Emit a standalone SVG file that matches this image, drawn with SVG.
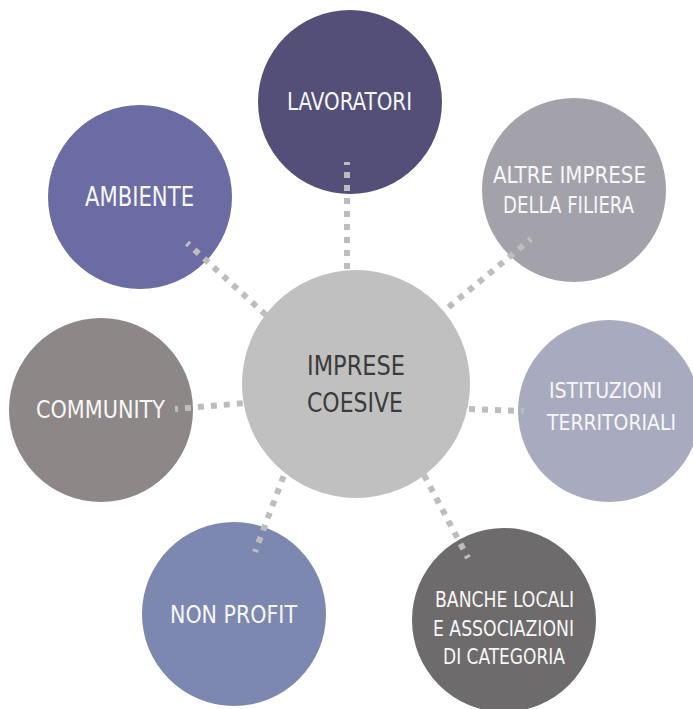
<svg xmlns="http://www.w3.org/2000/svg" width="693" height="709" viewBox="0 0 693 709">
  <style>
    .lbl { font-family: "DejaVu Sans Condensed", "DejaVu Sans", "Liberation Sans", sans-serif; fill: #f7f7f7; }
    .core { font-family: "DejaVu Sans Condensed", "DejaVu Sans", "Liberation Sans", sans-serif; fill: #3b3b3b; }
    .link { stroke: #bdbdbd; stroke-width: 6; stroke-dasharray: 6 7; stroke-dashoffset: 3; fill: none; }
  </style>
  <rect width="693" height="709" fill="#ffffff"/>

  <!-- stakeholder nodes -->
  <g id="lavoratori">
    <circle cx="350" cy="102" r="92" fill="#534f78"/>
    <text class="lbl" x="287" y="110" font-size="25" textLength="125" lengthAdjust="spacingAndGlyphs">LAVORATORI</text>
  </g>
  <g id="altre-imprese">
    <circle cx="574" cy="190" r="92" fill="#a3a2ab"/>
    <text class="lbl" x="493" y="183" font-size="23" textLength="153" lengthAdjust="spacingAndGlyphs">ALTRE IMPRESE</text>
    <text class="lbl" x="503" y="213" font-size="23" textLength="131" lengthAdjust="spacingAndGlyphs">DELLA FILIERA</text>
  </g>
  <g id="ambiente">
    <circle cx="140" cy="197" r="92" fill="#6b6ca4"/>
    <text class="lbl" x="85" y="206" font-size="26" textLength="109" lengthAdjust="spacingAndGlyphs">AMBIENTE</text>
  </g>
  <g id="community">
    <circle cx="101" cy="410" r="92" fill="#8d8788"/>
    <text class="lbl" x="36" y="418" font-size="25" textLength="129" lengthAdjust="spacingAndGlyphs">COMMUNITY</text>
  </g>
  <g id="istituzioni">
    <circle cx="609" cy="411" r="91" fill="#a8abc0"/>
    <text class="lbl" x="549" y="398" font-size="22" textLength="113" lengthAdjust="spacingAndGlyphs">ISTITUZIONI</text>
    <text class="lbl" x="547" y="430" font-size="22" textLength="129" lengthAdjust="spacingAndGlyphs">TERRITORIALI</text>
  </g>
  <g id="banche">
    <circle cx="504" cy="620" r="92" fill="#6e6b6c"/>
    <text class="lbl" x="435" y="607" font-size="22" textLength="139" lengthAdjust="spacingAndGlyphs">BANCHE LOCALI</text>
    <text class="lbl" x="433" y="636" font-size="22" textLength="141" lengthAdjust="spacingAndGlyphs">E ASSOCIAZIONI</text>
    <text class="lbl" x="443" y="664" font-size="22" textLength="122" lengthAdjust="spacingAndGlyphs">DI CATEGORIA</text>
  </g>
  <g id="non-profit">
    <circle cx="234" cy="614" r="92" fill="#7d88b1"/>
    <text class="lbl" x="170" y="623" font-size="25" textLength="127" lengthAdjust="spacingAndGlyphs">NON PROFIT</text>
  </g>

  <!-- dotted links from each stakeholder to the core -->
  <g id="connectors">
    <line class="link" x1="347" y1="162" x2="347" y2="274"/>
    <line class="link" x1="531" y1="239" x2="444" y2="311"/>
    <line class="link" x1="187" y1="243" x2="267" y2="316"/>
    <line class="link" x1="175" y1="409" x2="246" y2="403"/>
    <line class="link" x1="524" y1="411" x2="467" y2="409"/>
    <line class="link" x1="468" y1="558" x2="424" y2="475"/>
    <line class="link" x1="255" y1="552" x2="284" y2="475"/>
  </g>

  <!-- core node -->
  <g id="imprese-coesive">
    <circle cx="356" cy="384" r="114" fill="#c0c0c0"/>
    <text class="core" x="307" y="375" font-size="27" textLength="98" lengthAdjust="spacingAndGlyphs">IMPRESE</text>
    <text class="core" x="307" y="412" font-size="27" textLength="96" lengthAdjust="spacingAndGlyphs">COESIVE</text>
  </g>
</svg>
